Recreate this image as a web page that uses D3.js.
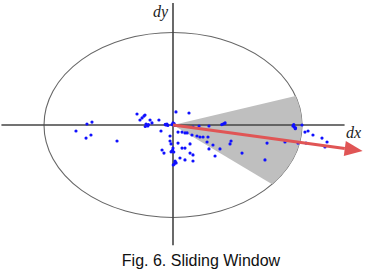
<!DOCTYPE html>
<html><head><meta charset="utf-8">
<script src="https://cdn.jsdelivr.net/npm/d3@7"></script>
<style>html,body{margin:0;padding:0;background:#fff;}svg{display:block;}</style>
</head><body>
<svg id="c" width="370" height="270"></svg>
<script>
// Data in normalized units: ellipse (sliding-window boundary) has radius 100 on both axes
const pointsDx = [-27.9,-21.7,-20.9,-19.5,-20.2,-19.0,-21.5,-25.6,-17.8,-16.3,-10.9,2.3,12.4,-4.7,-5.5,-4.0,-6.0,0,0.8,-0.8,1.5,
  -66.7,-62.8,-75.2,-63.6,-67.4,-43.4,-9.3,-2.3,-2.3,-1.5,3.9,13.2,-8.5,-7.0,-0.8,-0.2,0.6,-1.5,0,7.0,9.3,13.2,15.5,
  5.4,9.3,15.5,1.6,2.4,1.0,1.6,0.2,14.7,20.2,27.9,23.3,27.1,26.4,31.0,27.9,36.4,32.6,38.8,39.8,37.8,40.4,
  45.0,44.2,53.5,71.3,72.9,86.8,93.0,94.0,95.0,93.6,94.8,100,102.3,104.7,108.5,115.5,119.4,117.8,103.1,96.9,
  15.5,10.9,20.9,3.9,7.0,9.3,18.6,-24.0,-22.5];
const pointsDy = [11.9,10.8,1.1,-1.1,0,0.5,-1.6,5.4,5.4,2.2,5.4,14.1,13.0,1.1,0,-0.5,0.6,2.2,1.5,0.5,-0.5,
  1.1,3.2,-6.5,-10.8,-14.1,-17.3,-6.5,-11.9,-17.3,-20.5,-19.5,-20.5,-27.0,-30.3,-28.1,-27.0,-29.2,-29.0,-24.9,-24.9,-24.9,-30.3,-32.4,
  -35.7,-37.8,-38.9,-40.0,-41.0,-42.2,-39.0,-43.2,-10.8,-1.1,-1.1,-13.0,-13.0,-18.4,-21.6,-25.9,-25.9,-33.5,1.1,1.6,0.5,2.2,
  -17.3,-20.5,-30.3,-37.8,-19.5,-18.4,-1.1,-2.2,-3.2,0.5,-4.0,0,-7.6,-6.5,-10.8,-14.1,-18.4,-23.8,-19.5,-19.5,
  -2.2,-8.6,-13.0,-7.6,-7.6,-8.6,-11.9,7.6,9.7];
const arrowEnd = [147, -28];        // direction vector of the red arrow
const windowHalfAngle = 29;         // degrees, half opening of the sliding window
const axisExtentX = [-133, 133];
const axisExtentY = [-130, 132];
const labels = {x: "dx", y: "dy", caption: "Fig. 6. Sliding Window"};

const svg = d3.select("#c");
const x = d3.scaleLinear().domain([-100, 100]).range([44, 302]);
const y = d3.scaleLinear().domain([-100, 100]).range([217.5, 32.5]);

// ellipse
svg.append("ellipse")
  .attr("cx", x(0)).attr("cy", y(0))
  .attr("rx", x(100) - x(0)).attr("ry", y(0) - y(100))
  .attr("fill", "none").attr("stroke", "#666").attr("stroke-width", 1.1);

// sliding window wedge
const theta = Math.atan2(arrowEnd[1], arrowEnd[0]);
const half = windowHalfAngle * Math.PI / 180;
const angs = d3.range(0, 41).map(i => theta + half - (2 * half) * i / 40);
const wedgePts = [[0, 0]].concat(angs.map(a => [100 * Math.cos(a), 100 * Math.sin(a)]));
svg.append("path")
  .attr("d", d3.line().x(d => x(d[0])).y(d => y(d[1]))(wedgePts) + "Z")
  .attr("fill", "#bfbfbf").attr("stroke", "none");

// axes
svg.append("line").attr("x1", x(axisExtentX[0])).attr("x2", x(axisExtentX[1]))
  .attr("y1", y(0)).attr("y2", y(0)).attr("stroke", "#444").attr("stroke-width", 1.6);
svg.append("line").attr("x1", x(0)).attr("x2", x(0))
  .attr("y1", y(axisExtentY[1])).attr("y2", y(axisExtentY[0])).attr("stroke", "#444").attr("stroke-width", 1.6);

// points
const pts = pointsDx.map((d, i) => [d, pointsDy[i]]);
svg.append("g").selectAll("circle").data(pts).join("circle")
  .attr("cx", d => x(d[0])).attr("cy", d => y(d[1])).attr("r", 1.6)
  .attr("fill", "#1010ff");

// arrow
const x0 = x(0), y0 = y(0), x1 = x(arrowEnd[0]), y1 = y(arrowEnd[1]);
const ang = Math.atan2(y1 - y0, x1 - x0);
const hl = 18, hw = 7.5;
const bx = x1 - hl * Math.cos(ang), by = y1 - hl * Math.sin(ang);
svg.append("line").attr("x1", x0).attr("y1", y0).attr("x2", bx).attr("y2", by)
  .attr("stroke", "#e05555").attr("stroke-width", 3);
svg.append("path")
  .attr("d", `M${x1},${y1}L${bx - hw * Math.sin(ang)},${by + hw * Math.cos(ang)}L${bx + hw * Math.sin(ang)},${by - hw * Math.cos(ang)}Z`)
  .attr("fill", "#e05555");

// labels
svg.append("text").attr("x", 153).attr("y", 17).text(labels.y)
  .attr("font-family", "Liberation Serif, serif").attr("font-style", "italic").attr("font-size", 16).attr("fill", "#222");
svg.append("text").attr("x", 346).attr("y", 138).text(labels.x)
  .attr("font-family", "Liberation Serif, serif").attr("font-style", "italic").attr("font-size", 16).attr("fill", "#222");
svg.append("text").attr("x", 201).attr("y", 266).attr("text-anchor", "middle").text(labels.caption)
  .attr("font-family", "Liberation Sans, Arial, sans-serif").attr("font-size", 16).attr("fill", "#111");
</script>
</body></html>
